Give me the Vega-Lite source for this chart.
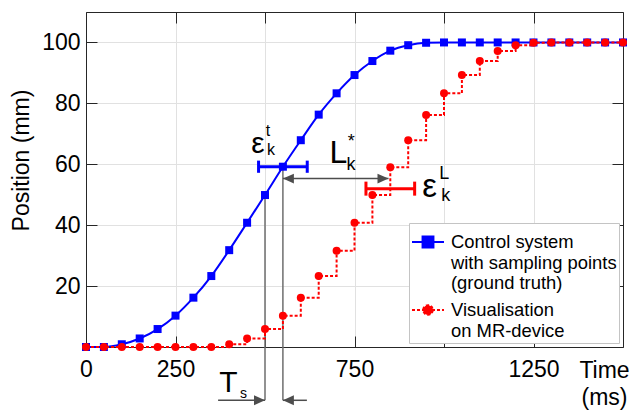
{
  "$schema": "https://vega.github.io/schema/vega-lite/v6.json",
  "width": 537,
  "height": 335,
  "autosize": {"type": "none"},
  "padding": {"left": 86, "top": 12, "right": 7, "bottom": 65},
  "config": {
    "font": "Liberation Sans",
    "view": {"stroke": null},
    "axis": {
      "labelFont": "Liberation Sans",
      "labelFontSize": 23,
      "labelColor": "#000000",
      "titleFont": "Liberation Sans",
      "titleFontSize": 23,
      "titleFontWeight": "normal",
      "titleColor": "#000000",
      "domainColor": "#262626",
      "domainWidth": 1,
      "tickColor": "#262626",
      "tickWidth": 1,
      "tickSize": -11,
      "gridColor": "#e1e1e1",
      "gridWidth": 1
    }
  },
  "datasets": {
    "series": [
      {"t": 0, "v": 0, "s": "gt"}, {"t": 50, "v": 0, "s": "gt"}, {"t": 100, "v": 0.9, "s": "gt"},
      {"t": 150, "v": 2.8, "s": "gt"}, {"t": 200, "v": 5.9, "s": "gt"}, {"t": 250, "v": 10.3, "s": "gt"},
      {"t": 300, "v": 16.2, "s": "gt"}, {"t": 350, "v": 23.3, "s": "gt"}, {"t": 400, "v": 31.8, "s": "gt"},
      {"t": 450, "v": 40.8, "s": "gt"}, {"t": 500, "v": 49.9, "s": "gt"}, {"t": 550, "v": 59.2, "s": "gt"},
      {"t": 600, "v": 67.9, "s": "gt"}, {"t": 650, "v": 76.3, "s": "gt"}, {"t": 700, "v": 83.3, "s": "gt"},
      {"t": 750, "v": 89.3, "s": "gt"}, {"t": 800, "v": 93.9, "s": "gt"}, {"t": 850, "v": 97.3, "s": "gt"},
      {"t": 900, "v": 99.1, "s": "gt"}, {"t": 950, "v": 99.9, "s": "gt"}, {"t": 1000, "v": 100, "s": "gt"},
      {"t": 1050, "v": 100, "s": "gt"}, {"t": 1100, "v": 100, "s": "gt"}, {"t": 1150, "v": 100, "s": "gt"},
      {"t": 1200, "v": 100, "s": "gt"}, {"t": 1250, "v": 100, "s": "gt"}, {"t": 1300, "v": 100, "s": "gt"},
      {"t": 1350, "v": 100, "s": "gt"}, {"t": 1400, "v": 100, "s": "gt"}, {"t": 1450, "v": 100, "s": "gt"},
      {"t": 1500, "v": 100, "s": "gt"},
      {"t": 0, "v": 0, "s": "mr"}, {"t": 50, "v": 0, "s": "mr"}, {"t": 100, "v": 0, "s": "mr"},
      {"t": 150, "v": 0, "s": "mr"}, {"t": 200, "v": 0, "s": "mr"}, {"t": 250, "v": 0, "s": "mr"},
      {"t": 300, "v": 0, "s": "mr"}, {"t": 350, "v": 0, "s": "mr"}, {"t": 400, "v": 0.9, "s": "mr"},
      {"t": 450, "v": 2.8, "s": "mr"}, {"t": 500, "v": 5.9, "s": "mr"}, {"t": 550, "v": 10.3, "s": "mr"},
      {"t": 600, "v": 16.2, "s": "mr"}, {"t": 650, "v": 23.3, "s": "mr"}, {"t": 700, "v": 31.6, "s": "mr"},
      {"t": 750, "v": 40.8, "s": "mr"}, {"t": 800, "v": 49.9, "s": "mr"}, {"t": 850, "v": 59.0, "s": "mr"},
      {"t": 900, "v": 67.9, "s": "mr"}, {"t": 950, "v": 76.2, "s": "mr"}, {"t": 1000, "v": 83.3, "s": "mr"},
      {"t": 1050, "v": 89.3, "s": "mr"}, {"t": 1100, "v": 93.9, "s": "mr"}, {"t": 1150, "v": 97.2, "s": "mr"},
      {"t": 1200, "v": 99.1, "s": "mr"}, {"t": 1250, "v": 99.9, "s": "mr"}, {"t": 1300, "v": 100, "s": "mr"},
      {"t": 1350, "v": 100, "s": "mr"}, {"t": 1400, "v": 100, "s": "mr"}, {"t": 1450, "v": 100, "s": "mr"},
      {"t": 1500, "v": 100, "s": "mr"}
    ],
    "guides": [
      {"t": 500, "v": 49.9, "v1": -17.5},
      {"t": 550, "v": 59.2, "v1": -17.5}
    ],
    "shafts": [
      {"t": 369, "t1": 500, "v": -17.5},
      {"t": 550, "t1": 617, "v": -17.5},
      {"t": 550, "t1": 845, "v": 55.3}
    ],
    "heads": [
      {"t": 500, "v": -17.5, "dir": "right"},
      {"t": 550, "v": -17.5, "dir": "left"},
      {"t": 550, "v": 55.3, "dir": "left"},
      {"t": 845, "v": 55.3, "dir": "right"}
    ],
    "bars": [
      {"t": 482, "t1": 618, "v": 59.2, "s": "gt"},
      {"t": 782, "t1": 918, "v": 52.0, "s": "mr"}
    ],
    "caps": [
      {"t": 482, "v": 57.2, "v1": 61.2, "s": "gt"},
      {"t": 618, "v": 57.2, "v1": 61.2, "s": "gt"},
      {"t": 782, "v": 49.7, "v1": 54.3, "s": "mr"},
      {"t": 918, "v": 49.7, "v1": 54.3, "s": "mr"}
    ],
    "notes": [
      {"t": 480, "v": 63.6, "txt": "ε", "role": "eps_t"},
      {"t": 508, "v": 69.2, "txt": "t", "role": "sc_t"},
      {"t": 517, "v": 63.0, "txt": "k", "role": "sc_t"},
      {"t": 705, "v": 60.3, "txt": "L", "role": "L"},
      {"t": 741, "v": 65.6, "txt": "*", "role": "sc_L"},
      {"t": 740, "v": 58.1, "txt": "k", "role": "sc_L"},
      {"t": 960, "v": 49.3, "txt": "ε", "role": "eps_L"},
      {"t": 1001, "v": 55.3, "txt": "L", "role": "sc_L"},
      {"t": 1005, "v": 47.9, "txt": "k", "role": "sc_L"},
      {"t": 397.5, "v": -14.8, "txt": "T", "role": "T"},
      {"t": 440, "v": -16.9, "txt": "s", "role": "sc_s"}
    ]
  },
  "layer": [
    {
      "encoding": {
        "x": {
          "field": "t",
          "type": "quantitative",
          "scale": {"domain": [0, 1500], "nice": false, "zero": false},
          "axis": {
            "orient": "bottom",
            "values": [0, 250, 500, 750, 1000, 1250, 1500],
            "format": "d",
            "labelExpr": "datum.value == 500 || datum.value == 1000 || datum.value == 1500 ? '' : datum.label",
            "labelFlush": false,
            "labelOverlap": false,
            "labelPadding": 22,
            "grid": true,
            "title": ["Time", "(ms)"],
            "titleX": 518,
            "titleY": 30,
            "titleAlign": "center",
            "titleBaseline": "alphabetic",
            "titleLineHeight": 27
          }
        },
        "y": {
          "field": "v",
          "type": "quantitative",
          "scale": {"domain": [0, 110], "nice": false, "zero": false},
          "axis": {
            "orient": "left",
            "values": [20, 40, 60, 80, 100],
            "labelPadding": 17,
            "grid": true,
            "title": "Position (mm)",
            "titleX": -57.5,
            "titleY": 148,
            "titleAlign": "center",
            "titleBaseline": "alphabetic"
          }
        }
      },
      "layer": [
        {
          "data": {"name": "guides"},
          "mark": {"type": "rule", "color": "#6e6e6e", "strokeWidth": 1.5},
          "encoding": {"y2": {"field": "v1"}}
        },
        {
          "data": {"name": "series"},
          "transform": [{"filter": "datum.s == 'gt'"}],
          "mark": {"type": "line", "interpolate": "monotone", "strokeWidth": 2},
          "encoding": {
            "color": {
              "field": "s",
              "type": "nominal",
              "scale": {"domain": ["gt", "mr"], "range": ["#0000ff", "#ff0000"]},
              "legend": {
                "orient": "bottom-right",
                "offset": 4,
                "title": null,
                "fillColor": "#ffffff",
                "strokeColor": "#c4c4c4",
                "padding": 2,
                "labelFont": "Liberation Sans",
                "labelFontSize": 18.4,
                "labelColor": "#000000",
                "labelLimit": 400,
                "labelOffset": 6,
                "rowPadding": 0,
                "symbolSize": 1024,
                "symbolStrokeWidth": 2,
                "labelExpr": "datum.value == 'gt' ? ['Control system', 'with sampling points', '(ground truth)'] : ['Visualisation', 'on MR-device']",
                "encode": {
                  "labels": {
                    "update": {
                      "lineHeight": {"value": 20.7}
                    }
                  },
                  "symbols": {
                    "update": {
                      "shape": {"signal": "datum.value == 'gt' ? 'M-1,0L1,0M-0.34,-0.34L0.34,-0.34L0.34,0.34L-0.34,0.34Z' : 'M-1,0L1,0M0.3,0A0.3,0.3,0,1,1,-0.3,0A0.3,0.3,0,1,1,0.3,0Z'"},
                      "fill": {"signal": "datum.value == 'gt' ? '#0000ff' : '#ff0000'"},
                      "stroke": {"signal": "datum.value == 'gt' ? '#0000ff' : '#ff0000'"},
                      "strokeDash": {"signal": "datum.value == 'gt' ? [] : [3, 2]"},
                      "strokeWidth": {"value": 2},
                      "size": {"value": 1024},
                      "opacity": {"value": 1}
                    }
                  }
                }
              }
            }
          }
        },
        {
          "data": {"name": "series"},
          "transform": [{"filter": "datum.s == 'gt'"}],
          "mark": {"type": "point", "shape": "square", "filled": true, "size": 64, "color": "#0000ff", "opacity": 1}
        },
        {
          "data": {"name": "series"},
          "transform": [{"filter": "datum.s == 'mr'"}],
          "mark": {"type": "line", "interpolate": "step-after", "strokeWidth": 2, "strokeDash": [3, 2]},
          "encoding": {"color": {"field": "s", "type": "nominal"}}
        },
        {
          "data": {"name": "series"},
          "transform": [{"filter": "datum.s == 'mr'"}],
          "mark": {"type": "point", "shape": "circle", "filled": true, "size": 64, "color": "#ff0000", "opacity": 1}
        },
        {
          "data": {"name": "shafts"},
          "mark": {"type": "rule", "color": "#4d4d4d", "strokeWidth": 1.5},
          "encoding": {"x2": {"field": "t1"}}
        },
        {
          "data": {"name": "heads"},
          "mark": {"type": "point", "filled": true, "size": 484, "color": "#4d4d4d", "opacity": 1},
          "encoding": {
            "shape": {
              "field": "dir",
              "type": "nominal",
              "scale": {"domain": ["left", "right"], "range": ["M0,0L1,-0.45L1,0.45Z", "M0,0L-1,-0.45L-1,0.45Z"]},
              "legend": null
            }
          }
        },
        {
          "data": {"name": "bars"},
          "transform": [{"filter": "datum.s == 'gt'"}],
          "mark": {"type": "rule", "color": "#0000ff", "strokeWidth": 3},
          "encoding": {"x2": {"field": "t1"}}
        },
        {
          "data": {"name": "caps"},
          "transform": [{"filter": "datum.s == 'gt'"}],
          "mark": {"type": "rule", "color": "#0000ff", "strokeWidth": 3},
          "encoding": {"y2": {"field": "v1"}}
        },
        {
          "data": {"name": "bars"},
          "transform": [{"filter": "datum.s == 'mr'"}],
          "mark": {"type": "rule", "color": "#ff0000", "strokeWidth": 3},
          "encoding": {"x2": {"field": "t1"}}
        },
        {
          "data": {"name": "caps"},
          "transform": [{"filter": "datum.s == 'mr'"}],
          "mark": {"type": "rule", "color": "#ff0000", "strokeWidth": 3},
          "encoding": {"y2": {"field": "v1"}}
        },
        {
          "data": {"name": "notes"},
          "mark": {"type": "text", "align": "center", "baseline": "alphabetic", "font": "Liberation Sans", "color": "#000000"},
          "encoding": {
            "text": {"field": "txt"},
            "size": {
              "field": "role",
              "type": "nominal",
              "scale": {"type": "ordinal", "domain": ["eps_t", "eps_L", "L", "T", "sc_t", "sc_L", "sc_s"], "range": [30, 33, 32, 30, 16, 18, 14]},
              "legend": null
            }
          }
        }
      ]
    },
    {
      "data": {"name": "guides"},
      "mark": {"type": "point", "opacity": 0},
      "encoding": {
        "x": {
          "field": "t",
          "type": "quantitative",
          "scale": {"domain": [0, 1500], "nice": false, "zero": false},
          "axis": {"orient": "top", "values": [0, 250, 500, 750, 1000, 1250, 1500], "labels": false, "title": null, "grid": false}
        },
        "y": {
          "field": "v",
          "type": "quantitative",
          "scale": {"domain": [0, 110], "nice": false, "zero": false},
          "axis": {"orient": "right", "values": [20, 40, 60, 80, 100], "labels": false, "title": null, "grid": false}
        }
      }
    }
  ],
  "resolve": {"axis": {"x": "independent", "y": "independent"}}
}
